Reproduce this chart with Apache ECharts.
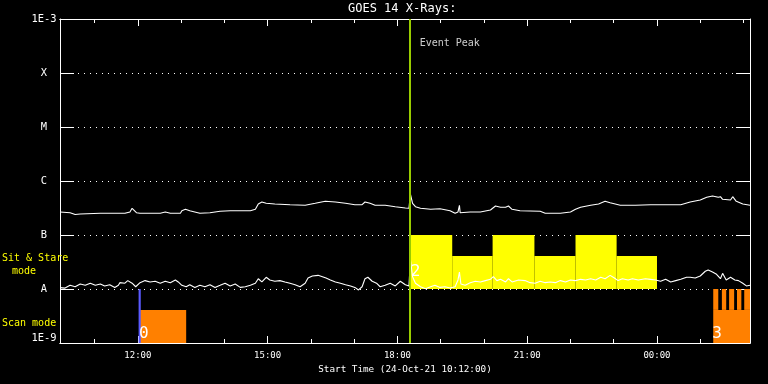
<!DOCTYPE html>
<html><head><meta charset="utf-8">
<script src="https://cdn.jsdelivr.net/npm/echarts@6/dist/echarts.min.js"></script>
<style>html,body{margin:0;padding:0;background:#000;}#c{width:768px;height:384px;}</style>
</head><body><div id="c"></div>
<script>
const chartTitle = 'GOES 14 X-Rays:';
const xAxisName = 'Start Time (24-Oct-21 10:12:00)';
const startTime = '10:12';
const endTime = '02:09';
const majorTickTimes = ['12:00','15:00','18:00','21:00','00:00'];
const minorTickTimes = ['11:00','13:00','14:00','16:00','17:00','19:00','20:00','22:00','23:00','01:00','02:00'];
const yTickLabels = ['1E-9','A','B','C','M','X','1E-3'];

// GOES long channel (1-8 A), units of 1e-7 W/m^2
const longTimes = ['10:12','10:26','10:33','10:40','11:08','11:42','11:49','11:52','11:58','12:03','12:31','12:38','12:45','12:59','13:01','13:06','13:12','13:26','13:40','13:54','14:08','14:22','14:36','14:43','14:47','14:52','14:58','15:10','15:31','15:52','16:06','16:20','16:34','16:48','17:01','17:11','17:15','17:22','17:29','17:43','17:57','18:11','18:16','18:18','18:21','18:25','18:32','18:46','18:59','19:13','19:20','19:24','19:26','19:27','19:41','19:55','20:09','20:16','20:23','20:30','20:34','20:39','20:50','21:18','21:25','21:46','22:00','22:07','22:14','22:28','22:39','22:48','22:55','23:09','23:30','23:51','00:33','00:46','01:00','01:09','01:17','01:25','01:28','01:31','01:42','01:45','01:50','01:59','02:09'];
const longFlux = [2.67,2.59,2.40,2.45,2.52,2.52,2.67,3.12,2.59,2.52,2.52,2.67,2.52,2.52,2.82,2.99,2.82,2.52,2.59,2.75,2.82,2.82,2.82,2.99,3.75,4.08,3.86,3.75,3.64,3.55,3.86,4.21,4.08,3.86,3.64,3.64,4.08,3.86,3.55,3.55,3.34,3.16,3.12,5.74,3.86,3.34,3.12,2.99,3.07,2.82,2.52,2.67,3.55,2.59,2.67,2.67,2.90,3.44,3.26,3.26,3.44,2.99,2.82,2.75,2.52,2.52,2.67,2.99,3.26,3.55,3.75,4.21,3.96,3.55,3.55,3.64,3.64,4.08,4.45,4.99,5.28,4.99,5.12,4.58,4.45,5.12,4.21,3.75,3.55];

// GOES short channel (0.5-4 A), units of 1e-9 W/m^2
const shortTimes = ['10:12','10:19','10:26','10:33','10:40','10:47','10:54','11:01','11:08','11:14','11:21','11:28','11:33','11:35','11:42','11:46','11:52','11:57','12:03','12:10','12:17','12:24','12:31','12:38','12:45','12:52','12:56','13:01','13:07','13:12','13:19','13:26','13:33','13:40','13:47','13:54','14:01','14:08','14:15','14:22','14:29','14:36','14:43','14:47','14:52','14:58','15:03','15:10','15:17','15:24','15:31','15:38','15:45','15:52','15:56','16:02','16:10','16:16','16:21','16:27','16:34','16:41','16:48','16:55','17:01','17:06','17:11','17:15','17:19','17:25','17:31','17:36','17:43','17:50','17:57','18:04','18:11','18:16','18:18','18:21','18:25','18:32','18:39','18:46','18:52','18:59','19:06','19:13','19:20','19:24','19:26','19:28','19:34','19:41','19:48','19:55','20:02','20:09','20:13','20:18','20:23','20:30','20:34','20:39','20:48','20:57','21:04','21:11','21:18','21:25','21:32','21:39','21:46','21:53','22:00','22:07','22:14','22:21','22:28','22:35','22:42','22:48','22:55','23:01','23:06','23:12','23:20','23:26','23:34','23:44','23:51','23:58','00:05','00:12','00:19','00:26','00:33','00:41','00:46','00:53','01:00','01:07','01:11','01:17','01:22','01:28','01:31','01:36','01:42','01:48','01:53','01:59','02:04','02:09'];
const shortFlux = [10.6,10.4,11.7,11.0,12.4,11.7,12.8,11.7,12.4,11.4,12.0,10.7,11.7,13.1,12.8,14.3,12.8,11.0,13.1,14.3,13.5,13.9,12.8,13.9,13.1,14.7,13.5,11.7,11.0,12.0,10.7,11.7,11.0,12.0,10.7,11.7,12.8,11.4,12.4,10.7,11.0,11.7,12.8,15.5,13.5,16.5,14.7,13.9,14.3,13.5,12.8,12.0,11.0,12.8,16.0,17.4,17.9,16.9,16.0,14.7,13.5,12.8,12.0,11.4,10.7,9.6,11.0,15.5,16.5,13.9,12.8,11.0,11.7,12.8,11.4,13.9,12.0,11.4,35.5,16.9,12.8,11.0,10.1,11.0,11.7,10.7,11.0,10.4,11.0,14.7,20.6,12.4,11.7,13.1,13.9,13.5,14.3,15.1,16.9,14.3,15.1,13.5,15.5,13.5,14.7,14.3,13.1,12.8,13.9,13.1,13.5,13.1,14.3,13.5,14.7,14.3,15.1,14.7,15.5,14.7,16.5,15.5,17.9,16.0,14.3,15.5,14.7,15.5,14.7,15.5,15.1,14.7,13.9,15.1,13.5,14.3,15.1,16.5,16.5,16.0,17.4,21.3,22.5,20.6,19.0,15.5,19.5,14.7,16.5,14.7,14.3,12.8,11.4,11.7];

// Event
const eventPeakTime = '18:17';
const eventLabel = 'Event Peak';
const eventLabelFlux = 3.6e-4;

// Mode bars (flux levels used as band edges)
const bandFloor = 1e-9;
const bandA = 1e-8;
const bandB = 1e-7;
const scanTop = 4.1e-9;
const sitStareLow = 4.1e-8;
const scanMarkers = [['12:01','12:04']];
const scanBlocks = [['12:03','13:07','0'],['01:18','02:09','3']];
const scanStripes = [['01:18','01:25'],['01:30','01:36'],['01:40','01:47'],['01:51','01:57'],['02:01','02:09']];
const sitStareTall = [['18:17','19:16','2'],['20:12','21:10',''],['22:07','23:04','']];
const sitStareShort = [['19:16','20:12'],['21:10','22:07'],['23:04','00:00']];

const MONO = '"DejaVu Sans Mono", "Liberation Mono", monospace';
function toMin(t){const p=t.split(':').map(Number);let v=p[0]*60+p[1];if(p[0]<10)v+=1440;return v;}
function fmtTime(v){const m=((Math.round(v)%1440)+1440)%1440;return String(Math.floor(m/60)).padStart(2,'0')+':'+String(m%60).padStart(2,'0');}
const xMin = toMin(startTime), xMax = toMin(endTime);
const major = majorTickTimes.map(toMin), minor = minorTickTimes.map(toMin);

const YELLOW='#ffff00', ORANGE='#ff8000', BLUE='#5a5aff', GREEN='#99cc00';
function area(t0,t1,y0,y1,color,text,off){
  const a={xAxis:toMin(t0),yAxis:y1,itemStyle:{color:color,opacity:1,borderWidth:0},label:{show:false}};
  if(text){a.label={show:true,position:'insideBottomLeft',distance:5,offset:off,formatter:text,color:'#fff',fontFamily:MONO,fontSize:16};}
  return [a,{xAxis:toMin(t1),yAxis:y0}];
}
const areas=[];
sitStareShort.forEach(b=>areas.push(area(b[0],b[1],bandA,sitStareLow,YELLOW)));
sitStareTall.forEach(b=>areas.push(area(b[0],b[1],bandA,bandB,YELLOW,b[2],[-4,-4])));
scanStripes.forEach(b=>areas.push(area(b[0],b[1],scanTop,bandA,ORANGE)));
scanBlocks.forEach(b=>areas.push(area(b[0],b[1],bandFloor,scanTop,ORANGE,b[2],[-6,4])));
scanMarkers.forEach(b=>areas.push(area(b[0],b[1],bandFloor,bandA,BLUE)));

const xCommon={type:'value',min:xMin,max:xMax,splitLine:{show:false},axisLine:{show:true,lineStyle:{color:'#fff',width:1}}};
const yCommon={type:'log',logBase:10,min:1e-9,max:1e-3,splitNumber:6,axisLine:{show:true,lineStyle:{color:'#fff',width:1}},axisTick:{show:true,inside:true,length:14,lineStyle:{color:'#fff'}},minorTick:{show:false}};

const option={
  backgroundColor:'#000',
  animation:false,
  title:{text:chartTitle,left:348,top:3,padding:0,textStyle:{color:'#fff',fontFamily:MONO,fontSize:12,fontWeight:'normal'}},
  grid:{left:60,right:18,top:19,bottom:41,containLabel:false},
  xAxis:[
    Object.assign({},xCommon,{position:'bottom',axisTick:{show:true,inside:true,length:7,customValues:major,lineStyle:{color:'#fff'}},
      axisLabel:{show:true,customValues:major,formatter:fmtTime,color:'#fff',fontFamily:MONO,fontSize:9,margin:8},
      name:xAxisName,nameLocation:'middle',nameGap:20,nameTextStyle:{color:'#fff',fontFamily:MONO,fontSize:9.3}}),
    Object.assign({},xCommon,{position:'bottom',axisTick:{show:true,inside:true,length:4,customValues:minor,lineStyle:{color:'#fff'}},axisLabel:{show:false}}),
    Object.assign({},xCommon,{position:'top',axisTick:{show:true,inside:true,length:7,customValues:major,lineStyle:{color:'#fff'}},axisLabel:{show:false}}),
    Object.assign({},xCommon,{position:'top',axisTick:{show:true,inside:true,length:4,customValues:minor,lineStyle:{color:'#fff'}},axisLabel:{show:false}})
  ],
  yAxis:[
    Object.assign({},yCommon,{position:'left',splitLine:{show:true,lineStyle:{color:'#fff',type:[1,5],width:1}},
      axisLabel:{color:'#fff',fontFamily:MONO,fontSize:10.4,align:'center',margin:16,
        formatter:v=>yTickLabels[Math.round(Math.log10(v))+9],verticalAlignMinLabel:'bottom',verticalAlignMaxLabel:'top'}}),
    Object.assign({},yCommon,{position:'right',splitLine:{show:false},axisLabel:{show:false}})
  ],
  graphic:[
    {type:'text',left:2,top:253,z:10,style:{text:'Sit & Stare',fill:YELLOW,font:'10px '+MONO}},
    {type:'text',left:12,top:266,z:10,style:{text:'mode',fill:YELLOW,font:'10px '+MONO}},
    {type:'text',left:2,top:318,z:10,style:{text:'Scan mode',fill:YELLOW,font:'10px '+MONO}}
  ],
  series:[
    {type:'line',name:'modes',data:[],z:1,silent:true,markArea:{silent:true,data:areas}},
    {type:'line',name:'long',data:longTimes.map((t,i)=>[toMin(t),longFlux[i]*1e-7]),showSymbol:false,symbol:'none',z:3,lineStyle:{color:'#fff',width:1.1},itemStyle:{color:'#fff'},clip:true},
    {type:'line',name:'short',data:shortTimes.map((t,i)=>[toMin(t),shortFlux[i]*1e-9]),showSymbol:false,symbol:'none',z:3,lineStyle:{color:'#fff',width:1.1},itemStyle:{color:'#fff'},clip:true},
    {type:'line',name:'event',data:[],z:5,silent:true,markLine:{silent:true,symbol:['none','none'],label:{show:false},lineStyle:{color:GREEN,width:2,type:'solid'},data:[{xAxis:toMin(eventPeakTime)}]}},
    {type:'scatter',name:'eventLabel',data:[[toMin(eventPeakTime),eventLabelFlux]],symbolSize:0,z:6,silent:true,
      label:{show:true,position:'right',distance:10,formatter:eventLabel,color:'#fff',fontFamily:MONO,fontSize:10}}
  ]
};
const chart=echarts.init(document.getElementById('c'),null,{renderer:'canvas'});
chart.setOption(option);
</script></body></html>
